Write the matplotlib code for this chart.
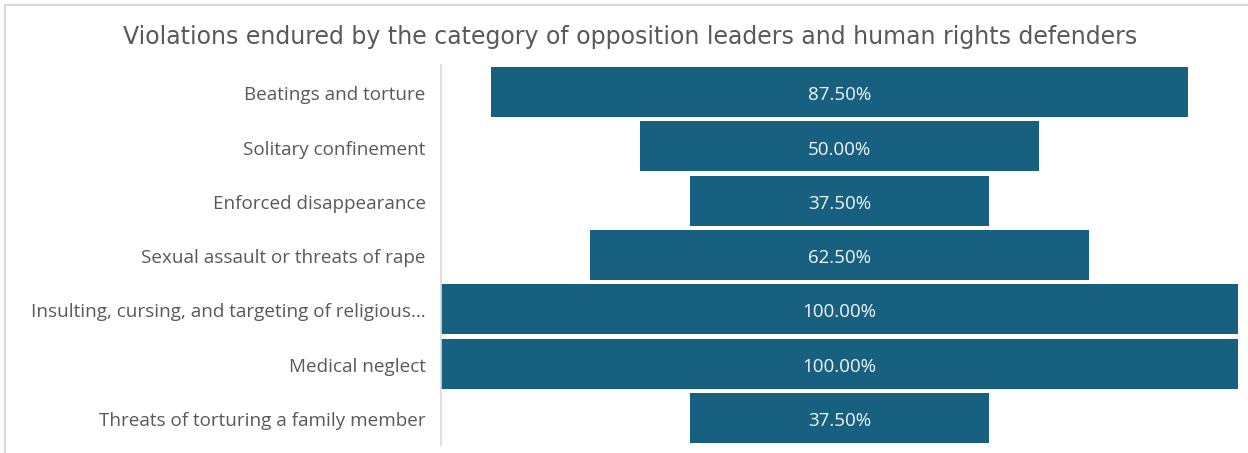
import numpy as np
import matplotlib.pyplot as plt
from matplotlib.patches import Rectangle

categories = [
    "Beatings and torture",
    "Solitary confinement",
    "Enforced disappearance",
    "Sexual assault or threats of rape",
    "Insulting, cursing, and targeting of religious\u2026",
    "Medical neglect",
    "Threats of torturing a family member",
]
shares = [87.5, 50.0, 37.5, 62.5, 100.0, 100.0, 37.5]
title = "Violations endured by the category of opposition leaders and human rights defenders"

W, H = 1248, 453
fig = plt.figure(figsize=(W / 100, H / 100), dpi=100)

# chart frame (light grey, runs off the right and bottom edge)
fig.patches.append(Rectangle((5 / W, -0.05), 1.2, 1 - 5 / H + 0.05,
                             transform=fig.transFigure, fill=False,
                             edgecolor="#d9d9d9", linewidth=1.5))

ax = fig.add_axes([441 / W, 1 - 445 / H, (1238 - 441) / W, (445 - 65) / H])

y = np.arange(len(categories))
vals = np.array(shares)
ax.barh(y, vals, left=(100 - vals) / 2, height=0.92, color="#17607f")

for yi, v in zip(y, vals):
    ax.text(50, yi + 0.02, f"{v:.2f}%", ha="center", va="center_baseline",
            color="#f2f5f7", fontsize=13.5, family="Open Sans")

ax.set_xlim(0, 100)
ax.set_ylim(len(categories) - 0.5, -0.5)
ax.set_yticks(y + 0.02)
ax.set_yticklabels(categories, fontsize=13.6, color="#595959", family="Open Sans")
ax.tick_params(axis="y", length=0, pad=11)
ax.set_xticks([])
for side in ["top", "right", "bottom"]:
    ax.spines[side].set_visible(False)
ax.spines["left"].set_color("#d9d9d9")
ax.spines["left"].set_linewidth(1.2)

fig.text(630 / W, 1 - 37 / H, title, ha="center", va="center",
         fontsize=17, color="#595959", family="DejaVu Sans")

fig.savefig("out.png", dpi=100)
